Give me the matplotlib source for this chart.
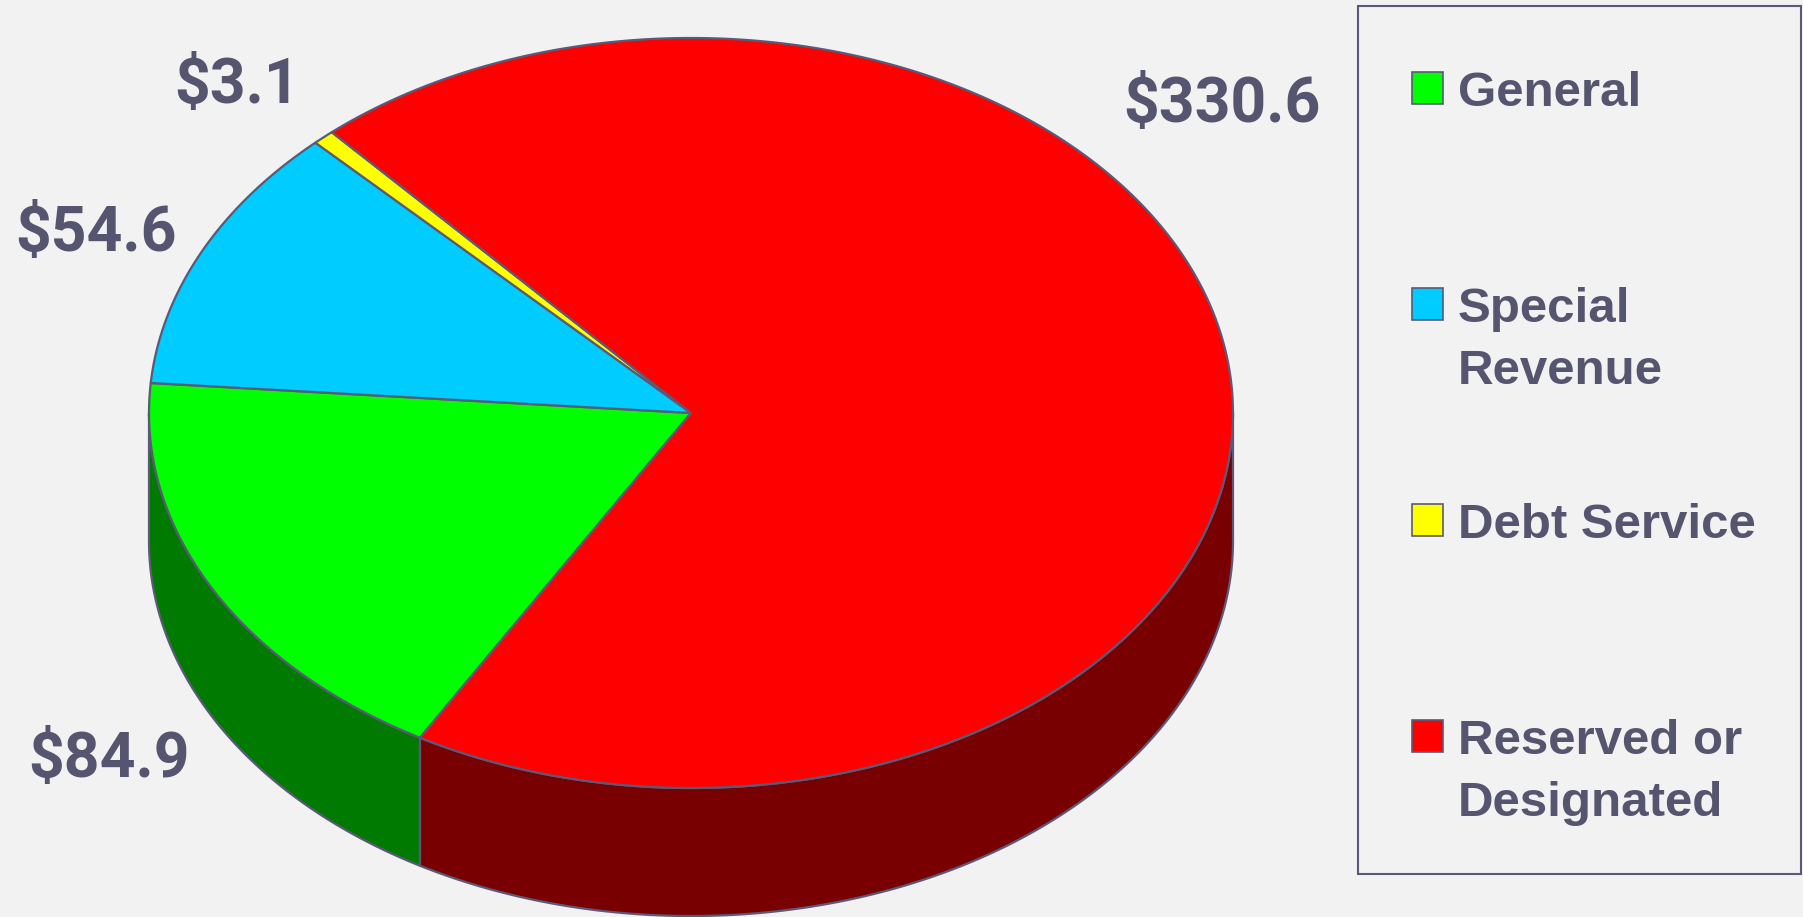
import matplotlib
matplotlib.use("Agg")
import matplotlib.pyplot as plt
import numpy as np
from matplotlib.patches import Polygon, Rectangle

# fund balances ($ millions)
funds = ["General", "Special Revenue", "Debt Service", "Reserved or Designated"]
legend_labels = ["General", "Special\nRevenue", "Debt Service", "Reserved or\nDesignated"]
values = [84.9, 54.6, 3.1, 330.6]
top_colors = ["#00FF00", "#00CCFF", "#FFFF00", "#FF0000"]
side_colors = ["#007A00", "#0080A0", "#A0A000", "#780000"]

# value label anchors (pixel coords, baseline)
label_pos = [(109, 777), (96, 251), (237, 103), (1222, 122)]

W, H = 1803, 917
cx, cy, rx, ry, depth = 691, 413, 542, 375, 128
start = 240
edge = "#5A5A78"
txt = "#55556F"

fig = plt.figure(figsize=(W / 100, H / 100), dpi=100)
fig.patch.set_facecolor("#F2F2F2")
ax = fig.add_axes([0, 0, 1, 1])
ax.set_xlim(0, W)
ax.set_ylim(H, 0)
ax.axis("off")


def pt(theta, dz=0):
    t = np.radians(theta)
    return cx + rx * np.cos(t), cy - ry * np.sin(t) + dz


fracs = np.array(values) / sum(values)
ends = start - 360 * np.cumsum(fracs)
starts = np.concatenate([[start], ends[:-1]])

# side walls (front half only)
for hi, lo, c in zip(starts, ends, side_colors):
    for k in (-360, 0):
        a0 = max(lo, 180 + k)
        a1 = min(hi, 360 + k)
        if a1 > a0:
            th = np.linspace(a0, a1, 200)
            x, y = pt(th)
            xs = np.concatenate([x, x[::-1]])
            ys = np.concatenate([y, y[::-1] + depth])
            ax.add_patch(Polygon(np.column_stack([xs, ys]), closed=True,
                                 fc=c, ec=edge, lw=1.6, joinstyle="round"))

# top face wedges
for hi, lo, c in zip(starts, ends, top_colors):
    th = np.linspace(hi, lo, 300)
    x, y = pt(th)
    xs = np.concatenate([[cx], x])
    ys = np.concatenate([[cy], y])
    ax.add_patch(Polygon(np.column_stack([xs, ys]), closed=True,
                         fc=c, ec=edge, lw=1.6, joinstyle="round"))

# value labels
for (x, y), v in zip(label_pos, values):
    ax.text(x, y, f"${v}", ha="center", va="baseline", fontsize=45,
            family="Roboto", weight="bold", color=txt)

# legend
ax.add_patch(Rectangle((1358, 6), 443, 868, fc="none", ec=edge, lw=1.5))
for i, (lab, c) in enumerate(zip(legend_labels, top_colors)):
    yc = 88 + 216 * i
    ax.add_patch(Rectangle((1412, yc - 16), 31, 32, fc=c, ec=edge, lw=1.2))
    for j, line in enumerate(lab.split("\n")):
        ax.text(1458, yc + 18 + 62 * j, line, ha="left", va="baseline",
                fontsize=35.5, family="Liberation Sans", weight="bold", color=txt)

fig.savefig("out.png", dpi=100, facecolor=fig.get_facecolor())
